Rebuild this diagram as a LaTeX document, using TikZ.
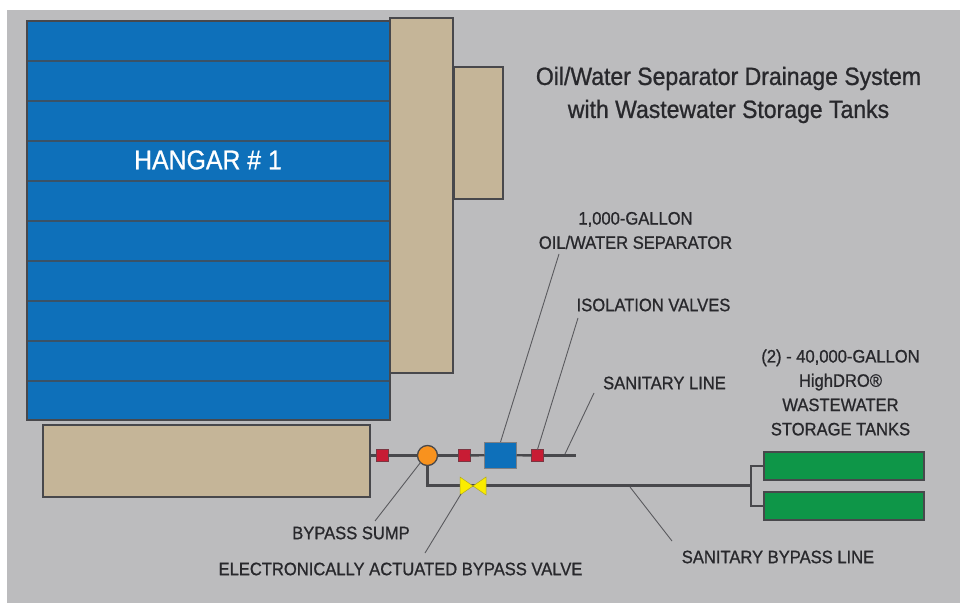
\documentclass[tikz,border=0pt]{standalone}
\usepackage{fontspec}
\setmainfont[FakeStretch=0.92,FakeBold=0.9]{Liberation Sans}
\definecolor{bggray}{RGB}{188,188,190}
\definecolor{hangarblue}{RGB}{14,112,186}
\definecolor{tan}{RGB}{197,181,152}
\definecolor{edge}{RGB}{72,72,76}
\definecolor{tankgreen}{RGB}{14,150,72}
\definecolor{valvered}{RGB}{200,28,52}
\definecolor{sumporange}{RGB}{248,146,30}
\definecolor{valveyellow}{RGB}{250,236,0}
\definecolor{ink}{RGB}{40,40,44}
\tikzset{
  x=1pt,y=-1pt,
  box/.style={draw=edge,line width=1.3pt,inner sep=0pt,outer sep=0pt,anchor=north west},
  tanbox/.style={box,fill=tan},
  greentank/.style={box,fill=tankgreen,minimum width=160pt,minimum height=28pt},
  isovalve/.style={draw=edge!60!valvered,line width=.5pt,fill=valvered,minimum size=12pt,inner sep=0pt,outer sep=0pt},
  pipe/.style={draw=edge,line width=2.4pt},
  branch/.style={draw=edge,line width=1.8pt},
  leader/.style={draw=edge!90,line width=.9pt},
  seam/.style={draw=edge!75!hangarblue,line width=1.3pt},
  lbl/.style={font=\fontsize{18}{24.3}\selectfont,text=ink,align=center,inner sep=0pt},
  bowtie/.style={draw=edge!40!valveyellow,line width=.5pt,fill=valveyellow},
}
\begin{document}
\begin{tikzpicture}
\useasboundingbox (0,0) rectangle (964,604);
\fill[bggray] (7,10) rectangle (960,603);
% buildings
\node[box,fill=hangarblue,minimum width=363pt,minimum height=399pt] (hangar) at (27,21) {};
\foreach \y in {61,101,141,181,221,261,301,341,381}
  \draw[seam] (28,\y) -- (389,\y);
\node[tanbox,minimum width=63pt,minimum height=355pt] (wing) at (390,18) {};
\node[tanbox,minimum width=49pt,minimum height=132pt] (annex) at (454,67) {};
\node[tanbox,minimum width=327pt,minimum height=72pt] (apron) at (43,425) {};
\node[font=\fontsize{27}{32}\selectfont,text=white,inner sep=0pt] (hangarlabel) at (208,160) {HANGAR \# 1};
% title
\node[font=\fontsize{25}{33}\selectfont,text=ink,align=center,inner sep=0pt] (title) at (728.5,95) {Oil/Water Separator Drainage System\\with Wastewater Storage Tanks};
% equipment nodes
\node[isovalve] (v1) at (382,455.5) {};
\node[draw=edge,line width=1.3pt,fill=sumporange,circle,minimum size=20pt,inner sep=0pt,outer sep=0pt] (sump) at (427.5,455.5) {};
\node[isovalve] (v2) at (464,455.5) {};
\node[draw=edge!70,line width=.6pt,fill=hangarblue,minimum width=32pt,minimum height=26pt,inner sep=0pt,outer sep=0pt] (sep) at (500.5,455) {};
\node[isovalve] (v3) at (537.5,455.5) {};
\coordinate (pipeend) at (576,455.5);
\coordinate (bypassvalve) at (473,485.5);
\node[greentank] (tank1) at (764,452) {};
\node[greentank] (tank2) at (764,492) {};
% pipes
\draw[pipe] (apron.east |- v1) -- (v1);
\draw[pipe] (v1) -- (sump);
\draw[pipe] (sump) -- (v2);
\draw[pipe] (v2) -- (sep);
\draw[pipe] (sep) -- (v3);
\draw[pipe] (v3) -- (pipeend);
\coordinate (junction) at (751,485.5);
\draw[pipe] (sump.south) |- (bypassvalve);
\draw[pipe] (bypassvalve) -- (junction);
\draw[branch] (tank1.west) -| (junction) |- (tank2.west);
% bypass valve
\path[bowtie] (460,477) -- (473,486) -- (460,495) -- cycle;
\path[bowtie] (486,477) -- (473,486) -- (486,495) -- cycle;
% labels
\node[lbl] (lsep) at (635.5,230.5) {1,000-GALLON\\OIL/WATER SEPARATOR};
\node[lbl] (liso) at (653.5,305) {ISOLATION VALVES};
\node[lbl] (lsan) at (664.5,383) {SANITARY LINE};
\node[lbl] (ltanks) at (840.5,392.5) {(2) - 40,000-GALLON\\HighDRO®\\WASTEWATER\\STORAGE TANKS};
\node[lbl] (lsump) at (351,533) {BYPASS SUMP};
\node[lbl] (lvalve) at (400.5,569) {ELECTRONICALLY ACTUATED BYPASS VALVE};
\node[lbl] (lbyp) at (778,557) {SANITARY BYPASS LINE};
% leaders
\coordinate (a1) at (559,254);
\draw[leader] (a1) -- (sep.north);
\coordinate (a2) at (578,318);
\draw[leader] (a2) -- (v3.north);
\coordinate (a3) at (594,393);
\draw[leader] (a3) -- (565,454);
\coordinate (a4) at (375,521);
\draw[leader] (a4) -- (sump.south west);
\coordinate (a5) at (425,553);
\draw[leader] (a5) -- (461,494);
\coordinate (a6) at (672,541);
\draw[leader] (a6) -- (630,487);
\end{tikzpicture}
\end{document}
